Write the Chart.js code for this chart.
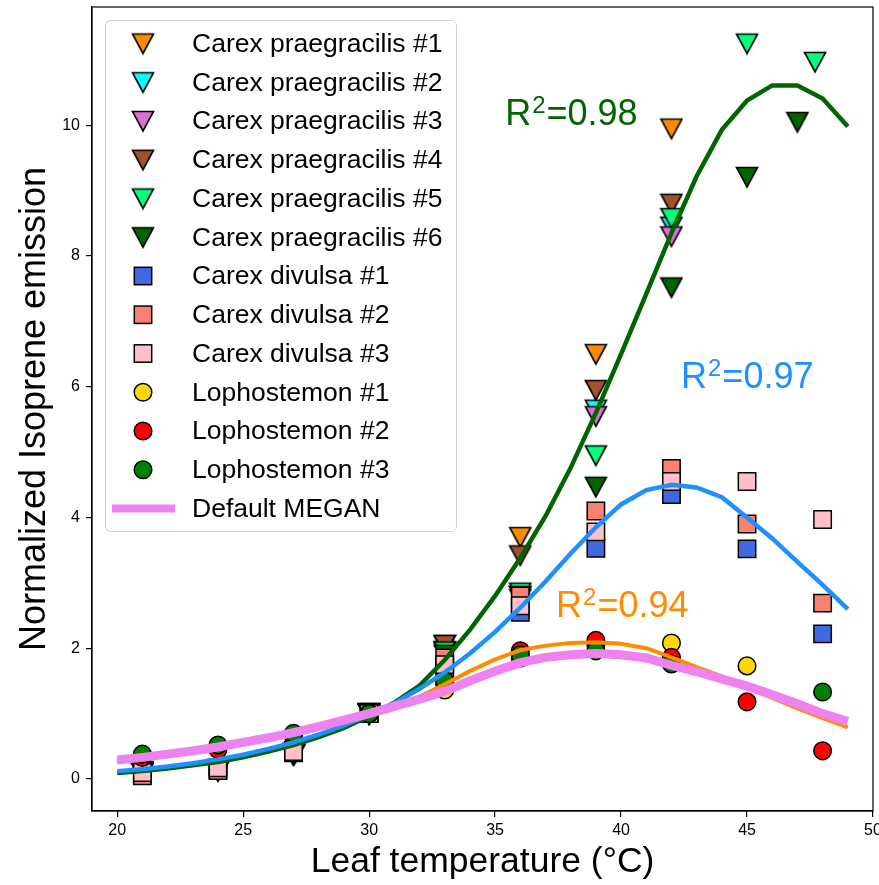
<!DOCTYPE html>
<html>
<head>
<meta charset="utf-8">
<title>Isoprene emission vs leaf temperature</title>
<script src="https://cdn.jsdelivr.net/npm/chart.js@4.4.0/dist/chart.umd.min.js"></script>
<style>
  html, body { margin: 0; padding: 0; background: #fff; }
  canvas { display: block; }
</style>
</head>
<body>
<canvas id="isopreneChart" width="879" height="885"></canvas>
<script>
const FONT = "'Liberation Sans', Arial, Helvetica, sans-serif";

// Measured emission, normalized to the 30 °C value
const cpTemps = [21, 24, 27, 30, 33, 36, 39, 42];
const cp1 = [0.12, 0.15, 0.40, 1.00, 2.05, 3.70, 6.50, 9.95];
const cp2 = [0.10, 0.13, 0.38, 1.00, 1.95, 2.80, 5.65, 8.45];
const cp3 = [0.10, 0.13, 0.38, 1.00, 1.95, 2.75, 5.55, 8.30];
const cp4 = [0.11, 0.14, 0.40, 1.00, 2.05, 3.42, 5.95, 8.80];
const cp5Temps = [21, 24, 27, 30, 33, 36, 39, 42, 45, 47.7];
const cp5 = [0.10, 0.13, 0.36, 1.00, 1.95, 2.85, 4.95, 8.58, 11.25, 10.97];
const cp6Temps = [21, 24, 27, 30, 33, 36, 39, 42, 45, 47];
const cp6 = [0.10, 0.12, 0.38, 1.00, 1.90, 2.80, 4.47, 7.52, 9.21, 10.05];

const cdTemps = [21, 24, 27, 30, 33, 36, 39, 42, 45, 48];
const cd1 = [0.07, 0.15, 0.40, 1.00, 1.70, 2.55, 3.53, 4.35, 3.52, 2.22];
const cd2 = [0.05, 0.13, 0.44, 1.00, 1.85, 2.80, 4.10, 4.75, 3.90, 2.69];
const cd3 = [0.10, 0.17, 0.42, 1.00, 1.75, 2.65, 3.78, 4.55, 4.55, 3.97];

const lo1Temps = [21, 24, 27, 30, 33, 36, 39, 42, 45];
const lo1 = [0.35, 0.48, 0.66, 1.00, 1.36, 1.85, 2.05, 2.08, 1.73];
const lo2Temps = [21, 24, 27, 30, 33, 36, 39, 42, 45, 48];
const lo2 = [0.33, 0.45, 0.65, 1.00, 1.45, 1.96, 2.12, 1.86, 1.18, 0.43];
const lo3Temps = [21, 24, 27, 30, 33, 36, 39, 42, 48];
const lo3 = [0.38, 0.52, 0.70, 1.00, 1.50, 1.90, 1.96, 1.76, 1.33];

// Fitted response curves and the default MEGAN curve
const fitTemps = [20, 21, 22, 23, 24, 25, 26, 27, 28, 29, 30, 31, 32, 33, 34,
                  35, 36, 37, 38, 39, 40, 41, 42, 43, 44, 45, 46, 47, 48, 49];
const fitPraegracilis = [0.09, 0.12, 0.16, 0.21, 0.26, 0.33, 0.42, 0.52, 0.64, 0.78,
                         0.96, 1.17, 1.43, 1.82, 2.28, 2.80, 3.38, 4.02, 4.76, 5.60,
                         6.50, 7.42, 8.35, 9.22, 9.93, 10.38, 10.61, 10.61, 10.41, 9.98];
const fitDivulsa = [0.12, 0.15, 0.19, 0.24, 0.30, 0.37, 0.46, 0.56, 0.68, 0.82,
                    0.98, 1.16, 1.38, 1.63, 1.92, 2.25, 2.62, 3.02, 3.45, 3.85,
                    4.20, 4.42, 4.50, 4.46, 4.31, 4.00, 3.68, 3.32, 2.97, 2.60];
const fitLophostemon = [0.27, 0.31, 0.36, 0.41, 0.47, 0.54, 0.62, 0.70, 0.79, 0.89,
                        1.00, 1.12, 1.26, 1.45, 1.65, 1.83, 1.97, 2.04, 2.08, 2.09,
                        2.07, 2.00, 1.86, 1.71, 1.57, 1.41, 1.24, 1.08, 0.93, 0.79];
const meganDefault = [0.29, 0.33, 0.38, 0.43, 0.49, 0.56, 0.63, 0.71, 0.80, 0.90,
                      1.00, 1.11, 1.22, 1.34, 1.50, 1.65, 1.78, 1.86, 1.90, 1.92,
                      1.90, 1.85, 1.74, 1.64, 1.53, 1.42, 1.29, 1.15, 1.00, 0.88];

const xTicks = [20, 25, 30, 35, 40, 45, 50];
const yTicks = [0, 2, 4, 6, 8, 10];

const r2Labels = [
    { text: '0.98', x: 35.4, y: 10.0, color: '#006400' },
    { text: '0.97', x: 42.38, y: 5.98, color: '#1e90ff' },
    { text: '0.94', x: 37.42, y: 2.48, color: '#ff8c00' }
];

function toPoints(xs, ys) {
    return xs.map((x, i) => ({ x: x, y: ys[i] }));
}

// downward triangle marker with a black edge
function triangleMarker(fill) {
    const c = document.createElement('canvas');
    c.width = 24;
    c.height = 24;
    const g = c.getContext('2d');
    g.beginPath();
    g.moveTo(1.5, 2.5);
    g.lineTo(22.5, 2.5);
    g.lineTo(12, 22);
    g.closePath();
    g.fillStyle = fill;
    g.fill();
    g.lineWidth = 1.6;
    g.strokeStyle = '#000';
    g.stroke();
    return c;
}

const markerSeries = [
    { label: 'Carex praegracilis #1', xs: cpTemps, ys: cp1, color: '#ff8c00', shape: 'tri' },
    { label: 'Carex praegracilis #2', xs: cpTemps, ys: cp2, color: '#00ffff', shape: 'tri' },
    { label: 'Carex praegracilis #3', xs: cpTemps, ys: cp3, color: '#da70d6', shape: 'tri' },
    { label: 'Carex praegracilis #4', xs: cpTemps, ys: cp4, color: '#a0522d', shape: 'tri' },
    { label: 'Carex praegracilis #5', xs: cp5Temps, ys: cp5, color: '#00ff7f', shape: 'tri' },
    { label: 'Carex praegracilis #6', xs: cp6Temps, ys: cp6, color: '#006400', shape: 'tri' },
    { label: 'Carex divulsa #1', xs: cdTemps, ys: cd1, color: '#4169e1', shape: 'rect' },
    { label: 'Carex divulsa #2', xs: cdTemps, ys: cd2, color: '#fa8072', shape: 'rect' },
    { label: 'Carex divulsa #3', xs: cdTemps, ys: cd3, color: '#ffc0cb', shape: 'rect' },
    { label: 'Lophostemon #1', xs: lo1Temps, ys: lo1, color: '#ffd700', shape: 'circle' },
    { label: 'Lophostemon #2', xs: lo2Temps, ys: lo2, color: '#ff0000', shape: 'circle' },
    { label: 'Lophostemon #3', xs: lo3Temps, ys: lo3, color: '#008000', shape: 'circle' }
];

const curveSeries = [
    { label: 'fit praegracilis', ys: fitPraegracilis, color: '#006400', width: 4.5, order: 4 },
    { label: 'fit divulsa', ys: fitDivulsa, color: '#1e90ff', width: 4.5, order: 3 },
    { label: 'fit lophostemon', ys: fitLophostemon, color: '#ff8c00', width: 4, order: 2 },
    { label: 'Default MEGAN', ys: meganDefault, color: '#ee82ee', width: 9, order: 1 }
];

const datasets = [];
markerSeries.forEach((s, i) => {
    const ds = {
        label: s.label,
        data: toPoints(s.xs, s.ys),
        backgroundColor: s.color,
        borderColor: '#000',
        borderWidth: 1.5,
        showLine: false,
        hoverRadius: 0,
        order: 30 - i // later series sit on top
    };
    if (s.shape === 'tri') {
        s.marker = triangleMarker(s.color);
        ds.pointStyle = s.marker;
        ds.pointRadius = 12;
    } else if (s.shape === 'rect') {
        ds.pointStyle = 'rect';
        ds.pointRadius = 12.3;
    } else {
        ds.pointStyle = 'circle';
        ds.pointRadius = 8.8;
    }
    datasets.push(ds);
});
curveSeries.forEach(s => {
    datasets.push({
        label: s.label,
        data: toPoints(fitTemps, s.ys),
        showLine: true,
        borderColor: s.color,
        borderWidth: s.width,
        pointRadius: 0,
        hoverRadius: 0,
        tension: 0,
        fill: false,
        order: s.order
    });
});

// axes frame and R² annotations
const annotatePlugin = {
    id: 'annotate',
    afterDatasetsDraw(chart) {
        const ctx = chart.ctx;
        const a = chart.chartArea;
        const xs = chart.scales.x, ys = chart.scales.y;
        ctx.save();
        ctx.strokeStyle = '#000';
        ctx.lineWidth = 1.2;
        ctx.strokeRect(a.left, a.top, a.right - a.left, a.bottom - a.top);

        ctx.textBaseline = 'alphabetic';
        ctx.textAlign = 'left';
        r2Labels.forEach(l => {
            let px = xs.getPixelForValue(l.x);
            const py = ys.getPixelForValue(l.y);
            ctx.fillStyle = l.color;
            ctx.font = '36px ' + FONT;
            ctx.fillText('R', px, py);
            px += ctx.measureText('R').width + 1;
            ctx.font = '24px ' + FONT;
            ctx.fillText('2', px, py - 12);
            px += ctx.measureText('2').width + 1;
            ctx.font = '36px ' + FONT;
            ctx.fillText('=' + l.text, px, py);
        });
        ctx.restore();
    },
    afterDraw(chart) {
        // legend box in the upper left corner of the axes
        const ctx = chart.ctx;
        ctx.save();
        ctx.beginPath();
        ctx.roundRect(105.5, 20.5, 351, 511, 5);
        ctx.fillStyle = 'rgba(255,255,255,0.85)';
        ctx.fill();
        ctx.strokeStyle = '#d0d0d0';
        ctx.lineWidth = 1;
        ctx.stroke();

        const rows = markerSeries.concat([{ label: 'Default MEGAN', shape: 'line', color: '#ee82ee' }]);
        ctx.font = '26.5px ' + FONT;
        ctx.textBaseline = 'middle';
        rows.forEach((s, i) => {
            const y = 43.5 + i * 38.75;
            const mx = 143;
            if (s.shape === 'tri') {
                ctx.drawImage(s.marker, mx - 12, y - 12);
            } else if (s.shape === 'rect') {
                ctx.fillStyle = s.color;
                ctx.fillRect(mx - 8.7, y - 8.7, 17.4, 17.4);
                ctx.lineWidth = 1.5;
                ctx.strokeStyle = '#000';
                ctx.strokeRect(mx - 8.7, y - 8.7, 17.4, 17.4);
            } else if (s.shape === 'circle') {
                ctx.beginPath();
                ctx.arc(mx, y, 8.8, 0, Math.PI * 2);
                ctx.fillStyle = s.color;
                ctx.fill();
                ctx.lineWidth = 1.5;
                ctx.strokeStyle = '#000';
                ctx.stroke();
            } else {
                ctx.fillStyle = s.color;
                ctx.fillRect(112, y - 4, 63, 8);
            }
            ctx.fillStyle = '#000';
            ctx.fillText(s.label, 192, y + 1);
        });
        ctx.restore();
    }
};

new Chart(document.getElementById('isopreneChart'), {
    type: 'scatter',
    data: { datasets: datasets },
    options: {
        responsive: false,
        animation: false,
        devicePixelRatio: 1,
        events: [],
        layout: { autoPadding: false, padding: { top: 7, right: 6, left: 0, bottom: 0 } },
        plugins: {
            legend: { display: false },
            tooltip: { enabled: false }
        },
        scales: {
            x: {
                type: 'linear',
                min: 19,
                max: 50,
                afterBuildTicks: s => { s.ticks = xTicks.map(v => ({ value: v })); },
                afterFit: s => {
                    s.height = 74;
                    s.paddingLeft = 0;
                    s.paddingRight = 0;
                },
                ticks: {
                    font: { size: 16, family: FONT },
                    color: '#000',
                    padding: 4,
                    autoSkip: false,
                    maxRotation: 0
                },
                grid: { drawOnChartArea: false, drawTicks: true, tickLength: 6, color: '#000', lineWidth: 1.2 },
                border: { display: true, color: '#000', width: 1.2 },
                title: {
                    display: true,
                    text: 'Leaf temperature (°C)',
                    font: { size: 35.5, family: FONT },
                    color: '#000',
                    padding: { top: 0, bottom: 1 }
                }
            },
            y: {
                type: 'linear',
                min: -0.49,
                max: 11.81,
                afterBuildTicks: s => { s.ticks = yTicks.map(v => ({ value: v })); },
                afterFit: s => {
                    s.width = 92;
                    s.paddingTop = 0;
                    s.paddingBottom = 0;
                },
                ticks: {
                    font: { size: 16, family: FONT },
                    color: '#000',
                    padding: 6
                },
                grid: { drawOnChartArea: false, drawTicks: true, tickLength: 6, color: '#000', lineWidth: 1.2 },
                border: { display: true, color: '#000', width: 1.2 },
                title: {
                    display: true,
                    text: 'Normalized Isoprene emission',
                    font: { size: 36, family: FONT },
                    color: '#000',
                    padding: { top: 13, bottom: 0 }
                }
            }
        }
    },
    plugins: [annotatePlugin]
});
</script>
</body>
</html>
